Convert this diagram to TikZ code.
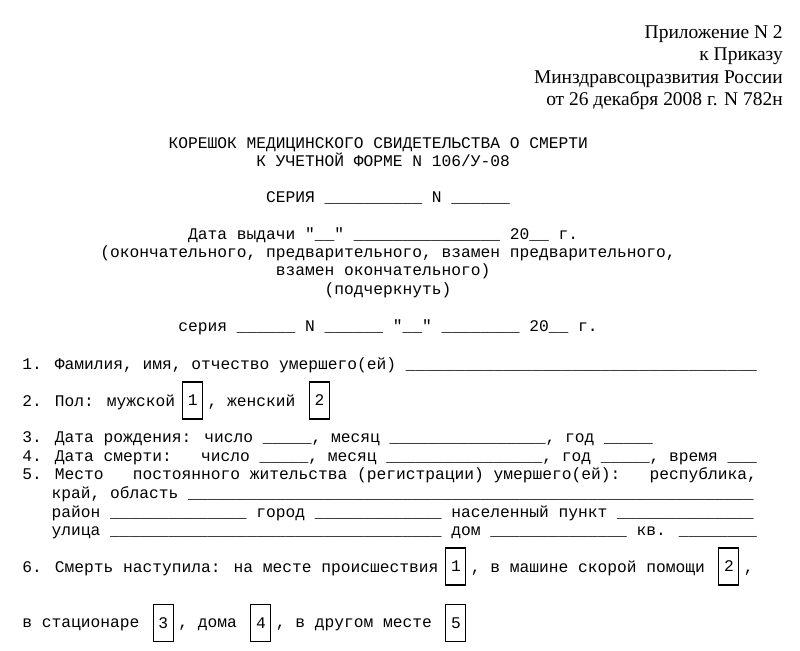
\documentclass[tikz,border=0pt]{standalone}
\usepackage{fontspec}
\setmainfont{Liberation Serif}
\newfontfamily\formfont{Liberation Mono}
\usetikzlibrary{positioning}

% column of the typewriter grid, in pixels
\newcommand\cx[1]{22+9.75*#1}
\newcommand\fillin[1]{\foreach\k in {1,...,#1}{\_}}

\begin{document}
\begin{tikzpicture}[x=0.75pt,y=-0.75pt,
  head/.style={anchor=base east,inner sep=0pt,font=\fontsize{14.6}{17}\selectfont},
  txt/.style={anchor=base west,inner sep=0pt,font=\formfont\fontsize{12.19}{14}\selectfont},
  numbox/.style={draw,line width=0.9pt,inner sep=0pt,minimum width=15pt,minimum height=27.75pt,
    font=\formfont\fontsize{12.19}{14}\selectfont}]

  \useasboundingbox (0,0) rectangle (800,650);

  \node[head] (app) at (783,38) {Приложение N 2};
  \node[head] (order) at (783,60) {к Приказу};
  \node[head] (minis) at (783,83) {Минздравсоцразвития России};
  \node[head] (odate) at (783,105) {от 26 декабря 2008 г. N 782н};

  \node[txt] (title) at ({\cx{15}},148) {КОРЕШОК МЕДИЦИНСКОГО СВИДЕТЕЛЬСТВА О СМЕРТИ};
  \node[txt] (title2) at ({\cx{24}},166) {К УЧЕТНОЙ ФОРМЕ N 106/У-08};
  \node[txt] (series) at ({\cx{25}},202) {СЕРИЯ \fillin{10} N \fillin{6}};

  \node[txt] (issue) at ({\cx{17}},239) {Дата выдачи "\fillin{2}" \fillin{15} 20\fillin{2} г.};
  \node[txt] (kind) at ({\cx{8}},257) {(окончательного, предварительного, взамен предварительного,};
  \node[txt] (kind2) at ({\cx{26}},275) {взамен окончательного)};
  \node[txt] (under) at ({\cx{31}},294) {(подчеркнуть)};
  \node[txt] (series2) at ({\cx{16}},331) {серия \fillin{6} N \fillin{6} "\fillin{2}" \fillin{8} 20\fillin{2} г.};

  \node[txt] (name) at ({\cx{0}},369) {1. Фамилия, имя, отчество умершего(ей) \fillin{36}};

  \node[txt] (sex) at ({\cx{0}},406) {2. Пол: мужской};
  \node[numbox] (male) at ({\cx{17.5}},400.5) {1};
  \node[txt] (sex2) at ({\cx{19}},406) {, женский};
  \node[numbox] (female) at ({\cx{30.5}},400.5) {2};

  \node[txt] (born) at ({\cx{0}},442) {3. Дата рождения: число \fillin{5}, месяц \fillin{16}, год \fillin{5}};
  \node[txt] (died) at ({\cx{0}},461) {4. Дата смерти:\ \ \ число \fillin{5}, месяц \fillin{16}, год \fillin{5}, время \fillin{3}};
  \node[txt] (home) at ({\cx{0}},479) {5. Место\ \ \ постоянного жительства (регистрации) умершего(ей):\ \ \ республика,};
  \node[txt] (region) at ({\cx{3}},498) {край, область \fillin{58}};
  \node[txt] (district) at ({\cx{3}},517) {район \fillin{14} город \fillin{13} населенный пункт \fillin{14}};
  \node[txt] (street) at ({\cx{3}},535) {улица \fillin{34} дом \fillin{14} кв. \fillin{8}};

  \node[txt] (place) at ({\cx{0}},572) {6. Смерть наступила: на месте происшествия};
  \node[numbox] (scene) at ({\cx{44.5}},566.5) {1};
  \node[txt] (place2) at ({\cx{46}},572) {, в машине скорой помощи};
  \node[numbox] (ambul) at ({\cx{72.5}},566.5) {2};
  \node[txt] (place3) at ({\cx{74}},572) {,};

  \node[txt] (place4) at ({\cx{0}},627) {в стационаре};
  \node[numbox] (hosp) at ({\cx{14.5}},623) {3};
  \node[txt] (place5) at ({\cx{16}},627) {, дома};
  \node[numbox] (house) at ({\cx{24.5}},623) {4};
  \node[txt] (place6) at ({\cx{26}},627) {, в другом месте};
  \node[numbox] (other) at ({\cx{44.5}},623) {5};

\end{tikzpicture}
\end{document}
